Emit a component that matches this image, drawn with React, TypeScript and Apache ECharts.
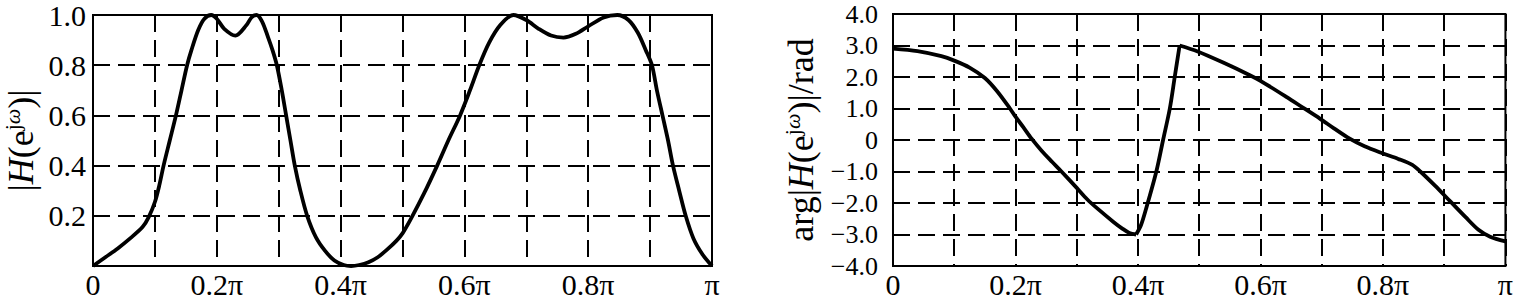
import React, { useEffect, useRef } from "react";
import * as echarts from "echarts";

// x positions are in units of π
const xTickLabels = ["0", "0.2π", "0.4π", "0.6π", "0.8π", "π"];
const magYTicks = ["", "0.2", "0.4", "0.6", "0.8", "1.0"];
const phaseYTicks = ["−4.0", "−3.0", "−2.0", "−1.0", "0", "1.0", "2.0", "3.0", "4.0"];

const magX = [
  0, 0.02, 0.04, 0.06, 0.08, 0.09, 0.1, 0.107, 0.114, 0.124, 0.134, 0.143, 0.152, 0.159, 0.17, 0.18,
  0.191, 0.2, 0.212, 0.23, 0.248, 0.256, 0.264, 0.273, 0.283, 0.29, 0.297, 0.305, 0.312, 0.319, 0.326,
  0.335, 0.346, 0.36, 0.375, 0.39, 0.405, 0.417, 0.43, 0.445, 0.46, 0.475, 0.49, 0.5, 0.514, 0.535, 0.556, 0.574,
  0.593, 0.609, 0.624, 0.64, 0.658, 0.679, 0.7, 0.72, 0.74, 0.76, 0.78, 0.8, 0.825, 0.847, 0.865, 0.88,
  0.893, 0.903, 0.911, 0.92, 0.929, 0.937, 0.947, 0.9575, 0.97, 0.985, 1.0,
];
const magY = [
  0, 0.035, 0.07, 0.11, 0.155, 0.195, 0.255, 0.32, 0.4, 0.5, 0.6, 0.7, 0.8, 0.86, 0.94, 0.985,
  1.0, 0.985, 0.945, 0.918, 0.96, 0.99, 1.0, 0.975, 0.91, 0.86, 0.8, 0.7, 0.6, 0.5, 0.4,
  0.3, 0.2, 0.115, 0.06, 0.022, 0.004, 0, 0.004, 0.015, 0.035, 0.065, 0.1, 0.13, 0.19, 0.29, 0.4, 0.5,
  0.6, 0.7, 0.8, 0.89, 0.96, 1.0, 0.98, 0.945, 0.918, 0.91, 0.925, 0.955, 0.99, 1.0, 0.98, 0.93,
  0.86, 0.8, 0.7, 0.6, 0.5, 0.4, 0.3, 0.2, 0.11, 0.045, 0,
];

// phase, three smooth pieces joined at sharp corners
const phaseX1 = [0, 0.04, 0.079, 0.1, 0.125, 0.15, 0.17, 0.191, 0.2, 0.213, 0.226, 0.243, 0.26, 0.275, 0.3, 0.317, 0.334, 0.36, 0.375, 0.386, 0.397];
const phaseY1 = [2.9, 2.82, 2.66, 2.52, 2.3, 1.97, 1.55, 1.0, 0.74, 0.4, 0.05, -0.35, -0.7, -1.0, -1.52, -1.88, -2.18, -2.6, -2.82, -2.95, -3.0];
const phaseX2 = [0.397, 0.405, 0.413, 0.43, 0.441, 0.452, 0.46, 0.468];
const phaseY2 = [-3.0, -2.7, -2.2, -1.0, 0, 1.0, 2.0, 3.0];
const phaseX3 = [0.468, 0.4975, 0.54, 0.5835, 0.6, 0.643, 0.67, 0.697, 0.72, 0.745, 0.77, 0.799, 0.825, 0.848, 0.861, 0.885, 0.91, 0.935, 0.956, 0.975, 1.0];
const phaseY3 = [3.0, 2.81, 2.45, 2.05, 1.88, 1.36, 1.02, 0.68, 0.37, 0.05, -0.2, -0.42, -0.6, -0.79, -1.0, -1.45, -1.95, -2.45, -2.85, -3.07, -3.22];

const zip = (xs: number[], ys: number[]) => xs.map((x, i) => [x, ys[i]]);

const FONT = "Liberation Serif";

export default function App() {
  const ref = useRef<HTMLDivElement>(null);
  useEffect(() => {
    if (!ref.current) return;
    const chart = echarts.init(ref.current, undefined, { renderer: "svg" });
    const dash = { type: [17, 8] as any, color: "#000", width: 2 };
    const xAxisBase = (gridIndex: number) => ({
      type: "value" as const,
      gridIndex,
      min: 0,
      max: 1,
      interval: 0.1,
      axisLine: { show: false },
      axisTick: { show: false },
      splitLine: { show: true, lineStyle: dash },
      axisLabel: {
        color: "#000",
        fontFamily: FONT,
        fontSize: 30,
        margin: 3,
        formatter: (v: number) => {
          const k = Math.round(v * 10);
          return k % 2 === 0 ? xTickLabels[k / 2] : "";
        },
      },
    });
    const richName = {
      t: { fontFamily: FONT, fontSize: 36, color: "#000", lineHeight: 40 },
      i: { fontFamily: FONT, fontSize: 36, fontStyle: "italic", color: "#000", lineHeight: 40 },
      s: { fontFamily: FONT, fontSize: 22, color: "#000", verticalAlign: "top", lineHeight: 40 },
      si: { fontFamily: FONT, fontSize: 22, fontStyle: "italic", color: "#000", verticalAlign: "top", lineHeight: 40 },
    };
    const lineSeries = (xi: number, data: number[][]) => ({
      type: "line" as const,
      xAxisIndex: xi,
      yAxisIndex: xi,
      data,
      showSymbol: false,
      smooth: 0.3,
      lineStyle: { color: "#000", width: 3.8, join: "round" as const },
      z: 5,
    });
    chart.setOption({
      animation: false,
      backgroundColor: "#fff",
      textStyle: { fontFamily: FONT },
      grid: [
        { left: 93, top: 11, width: 619, height: 255, show: true, borderColor: "#000", borderWidth: 2, backgroundColor: "transparent" },
        { left: 893, top: 14, width: 618, height: 252, show: true, borderColor: "#000", borderWidth: 2, backgroundColor: "transparent" },
      ],
      xAxis: [xAxisBase(0), xAxisBase(1)],
      yAxis: [
        {
          type: "value",
          gridIndex: 0,
          min: 0,
          max: 1,
          interval: 0.2,
          axisLine: { show: false },
          axisTick: { show: false },
          splitLine: { show: true, lineStyle: dash },
          axisLabel: {
            color: "#000",
            fontFamily: FONT,
            fontSize: 30,
            margin: 7,
            formatter: (v: number) => magYTicks[Math.round(v * 5)],
          },
          name: "{t||}{i|H}{t|(e}{s|j}{si|ω}{t|)|}",
          nameLocation: "middle",
          nameRotate: 90,
          nameGap: 52,
          nameTextStyle: { rich: richName },
        },
        {
          type: "value",
          gridIndex: 1,
          min: -4,
          max: 4,
          interval: 1,
          axisLine: { show: false },
          axisTick: { show: false },
          splitLine: { show: true, lineStyle: dash },
          axisLabel: {
            color: "#000",
            fontFamily: FONT,
            fontSize: 26,
            margin: 15,
            formatter: (v: number) => phaseYTicks[Math.round(v) + 4],
          },
          name: "{t|arg|}{i|H}{t|(e}{s|j}{si|ω}{t|)|/rad}",
          nameLocation: "middle",
          nameRotate: 90,
          nameGap: 72,
          nameTextStyle: { rich: richName },
        },
      ],
      series: [
        lineSeries(0, zip(magX, magY)),
        lineSeries(1, zip(phaseX1, phaseY1)),
        lineSeries(1, zip(phaseX2, phaseY2)),
        lineSeries(1, zip(phaseX3, phaseY3)),
      ],
    });
    return () => chart.dispose();
  }, []);
  return (
    <div
      ref={ref}
      style={{ position: "absolute", left: 0, top: 0, width: 1516, height: 299, background: "#fff" }}
    />
  );
}
